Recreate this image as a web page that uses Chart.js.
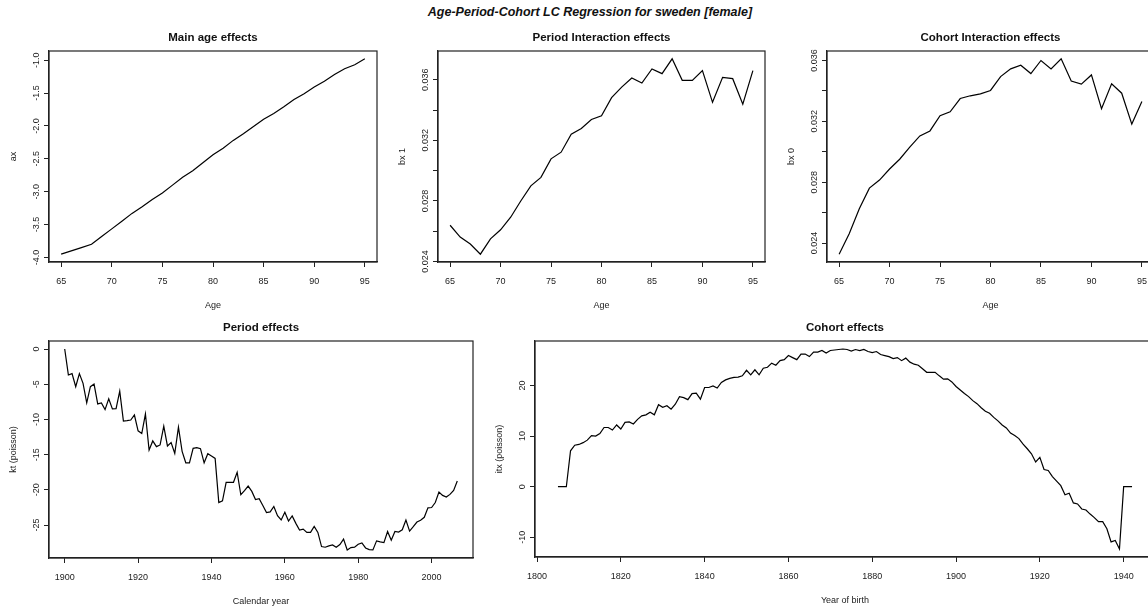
<!DOCTYPE html>
<html>
<head>
<meta charset="utf-8">
<script src="https://cdn.jsdelivr.net/npm/chart.js@4.4.1/dist/chart.umd.min.js"></script>
<style>
html, body { margin: 0; padding: 0; background: #fff; overflow: hidden; width: 1148px; height: 609px; }
#wrap { position: relative; width: 1148px; height: 609px; overflow: hidden; }
#wrap canvas { position: absolute; }
#main { position: absolute; left: 0; width: 1180px; top: 5px; line-height: 15px; text-align: center;
        font: italic bold 12.5px 'Liberation Sans', Arial, sans-serif; color: #111; }
</style>
</head>
<body>
<div id="wrap">
  <div id="main">Age-Period-Cohort LC Regression for sweden [female]</div>
  <canvas id="ageChart"></canvas>
  <canvas id="bx1Chart"></canvas>
  <canvas id="bx0Chart"></canvas>
  <canvas id="periodChart"></canvas>
  <canvas id="cohortChart"></canvas>
</div>
<script>
'use strict';

// ages 65..95
var ages = [65, 66, 67, 68, 69, 70, 71, 72, 73, 74, 75, 76, 77, 78, 79, 80,
            81, 82, 83, 84, 85, 86, 87, 88, 89, 90, 91, 92, 93, 94, 95];
var ax = [-3.95, -3.90, -3.85, -3.80, -3.68, -3.565, -3.45, -3.33, -3.23, -3.12, -3.02,
          -2.90, -2.78, -2.68, -2.56, -2.44, -2.34, -2.22, -2.12, -2.01, -1.90,
          -1.81, -1.71, -1.60, -1.51, -1.41, -1.32, -1.22, -1.13, -1.07, -0.98];
var bx1 = [0.0264, 0.02562, 0.02516, 0.02449, 0.0255, 0.0261, 0.02693, 0.0280, 0.0290, 0.02956, 0.03078,
           0.03122, 0.0324, 0.03278, 0.03338, 0.03362, 0.03482, 0.03551, 0.03611, 0.03578, 0.03671,
           0.0364, 0.03738, 0.03596, 0.03596, 0.0366, 0.03451, 0.03616, 0.03607, 0.03438, 0.0366];
var bx0 = [0.02327, 0.02462, 0.02626, 0.02761, 0.02814, 0.02887, 0.02951, 0.03031, 0.03104, 0.03137, 0.03237,
           0.03263, 0.0335, 0.03368, 0.03381, 0.03403, 0.03494, 0.03545, 0.03569, 0.03514, 0.036,
           0.03545, 0.03611, 0.03465, 0.03445, 0.03505, 0.03283, 0.03447, 0.03385, 0.03182, 0.0333];

// calendar years 1900..2007
var periodYears = yearRange(1900, 2007);
var kt = [
  0, -3.68, -3.49, -5.35, -3.49, -4.88, -7.65, -5.35, -4.97, -7.79,
  -7.65, -8.60, -7.07, -8.51, -8.46, -5.98, -10.23, -10.18, -10.09, -9.37,
  -11.62, -12.0, -9.23, -14.34, -13.05, -13.86, -13.62, -10.95, -13.77, -13.29,
  -14.82, -11.09, -14.53, -16.16, -16.16, -14.1, -14.0, -14.15, -16.16, -14.87,
  -15.2, -15.54, -21.8, -21.56, -18.93, -18.93, -18.93, -17.5, -20.7, -20.12,
  -19.46, -20.22, -21.37, -21.27, -22.23, -23.23, -23.14, -22.37, -23.66, -24.28,
  -23.18, -24.43, -23.71, -24.76, -25.72, -25.57, -26.05, -26.05, -25.19, -26.05,
  -28.06, -28.15, -27.96, -27.82, -28.15, -27.77, -27.0, -28.54, -28.2, -28.15,
  -27.72, -27.53, -28.25, -28.49, -28.54, -27.25, -27.39, -27.49, -25.91, -27.15,
  -25.91, -26.0, -25.67, -24.28, -25.86, -25.24, -24.57, -24.33, -23.9, -22.56,
  -22.51, -21.8, -20.32, -20.79, -21.03, -20.65, -20.08, -18.74
];

// years of birth 1805..1942
var cohortYears = yearRange(1805, 1942);
var itx = [
  0, 0, 0, 7.1, 8.2,
  8.35, 8.7, 9.2, 10.1, 10.0, 10.5, 11.7, 11.7, 11.2, 12.2,
  11.4, 12.7, 12.8, 12.4, 13.3, 14.0, 14.2, 14.7, 14.2, 16.2,
  15.7, 16.0, 15.3, 16.3, 17.8, 17.6, 17.2, 18.4, 18.5, 17.3,
  19.6, 19.6, 19.9, 19.5, 20.6, 21.1, 21.4, 21.6, 21.65, 21.9,
  23.0, 22.1, 23.1, 22.1, 23.4, 23.6, 24.4, 24.0, 24.9, 25.1,
  25.9, 25.5, 25.1, 26.2, 26.2, 25.7, 26.6, 26.6, 26.9, 26.4,
  26.9, 27.0, 27.1, 27.2, 27.1, 26.8, 27.1, 26.9, 27.1, 26.7,
  26.5, 26.7, 26.1, 25.9, 25.7, 25.3, 25.5, 24.9, 25.4, 24.6,
  24.2, 24.0, 23.3, 22.6, 22.6, 22.6, 21.9, 21.25, 21.3, 20.7,
  19.8, 19.1, 18.4, 17.8, 17.0, 16.4, 15.6, 14.9, 14.5, 13.7,
  13.0, 12.2, 11.6, 10.6, 10.1, 9.5, 8.4, 7.5, 6.5, 4.9,
  5.8, 3.4, 3.2, 2.0, 1.1, 0.2, -1.6, -1.3, -3.2, -3.4,
  -4.4, -4.6, -5.4, -6.1, -6.9, -6.9, -8.3, -10.9, -10.6, -12.3,
  0, 0, 0
];

var ageTicks = [65, 70, 75, 80, 85, 90, 95];
var yearTicks = [1900, 1920, 1940, 1960, 1980, 2000];
var birthTicks = [1800, 1820, 1840, 1860, 1880, 1900, 1920, 1940];
var axTicks = [-4, -3.5, -3, -2.5, -2, -1.5, -1];
var axLabels = ['-4.0', '-3.5', '-3.0', '-2.5', '-2.0', '-1.5', '-1.0'];
var bxTicks = [0.024, 0.026, 0.028, 0.030, 0.032, 0.034, 0.036];
var bxLabels = ['0.024', '', '0.028', '', '0.032', '', '0.036'];
var ktTicks = [-25, -20, -15, -10, -5, 0];
var itxTicks = [-10, 0, 10, 20];

function yearRange(a, b) {
    var out = [];
    for (var y = a; y <= b; y++) out.push(y);
    return out;
}

var FONT = "'Liberation Sans', Arial, Helvetica, sans-serif";
var YW = 49, TH = 24, XH = 52, RP = 12;

// R style axis range: data range plus 4% each side
function padRange(a) {
    var lo = Math.min.apply(null, a), hi = Math.max.apply(null, a), d = (hi - lo) * 0.04;
    return [lo - d, hi + d];
}

var measureCtx = document.createElement('canvas').getContext('2d');
function textWidth(s) {
    measureCtx.font = 'normal 9px ' + FONT;
    return measureCtx.measureText(s).width;
}

var frame = {
    id: 'frame',
    afterDraw: function (chart) {
        var a = chart.chartArea, ctx = chart.ctx;
        ctx.save();
        ctx.strokeStyle = '#222';
        ctx.lineWidth = 1.2;
        ctx.strokeRect(a.left, a.top, a.right - a.left, a.bottom - a.top);
        ctx.restore();
    }
};

function panel(id, box, p) {
    var cv = document.getElementById(id);
    var w = box.r - box.l + YW + RP, h = box.b - box.t + TH + XH;
    cv.width = w; cv.height = h;
    cv.style.left = (box.l - YW) + 'px';
    cv.style.top = (box.t - TH) + 'px';
    cv.style.width = w + 'px';
    cv.style.height = h + 'px';

    var xr = padRange(p.xs), yr = padRange(p.ys);
    var yLabels = p.yLabels || p.yTicks.map(String);
    var widest = Math.max.apply(null, yLabels.map(textWidth));

    return new Chart(cv.getContext('2d'), {
        type: 'line',
        data: {
            datasets: [{
                data: p.xs.map(function (x, i) { return { x: x, y: p.ys[i] }; }),
                borderColor: '#000',
                borderWidth: 1.2,
                pointRadius: 0,
                fill: false,
                tension: 0
            }]
        },
        options: {
            responsive: false,
            animation: false,
            layout: { padding: { left: 0, right: RP, top: 0, bottom: 0 } },
            plugins: {
                legend: { display: false },
                tooltip: { enabled: false },
                title: {
                    display: true, text: p.title, fullSize: false, color: '#111',
                    font: { family: FONT, size: 11.5, weight: 'bold' },
                    padding: { top: 4, bottom: 6.2 }
                }
            },
            scales: {
                x: {
                    type: 'linear', min: xr[0], max: xr[1],
                    afterBuildTicks: function (s) { s.ticks = p.xTicks.map(function (v) { return { value: v }; }); },
                    afterFit: function (s) { s.height = XH; },
                    grid: { drawOnChartArea: false, drawTicks: true, tickLength: 5, color: '#222' },
                    border: { display: true, color: '#222', width: 1.2 },
                    ticks: {
                        autoSkip: false, maxRotation: 0, padding: 9.1, color: '#222',
                        font: { family: FONT, size: 9 },
                        callback: function (v) { return String(v); }
                    },
                    title: {
                        display: true, text: p.xTitle, color: '#222',
                        font: { family: FONT, size: 9 }, padding: { top: 0, bottom: 3.1 }
                    }
                },
                y: {
                    type: 'linear', min: yr[0], max: yr[1],
                    afterBuildTicks: function (s) { s.ticks = p.yTicks.map(function (v) { return { value: v }; }); },
                    afterFit: function (s) { s.width = YW; },
                    grid: { drawOnChartArea: false, drawTicks: true, tickLength: 5, color: '#222' },
                    border: { display: true, color: '#222', width: 1.2 },
                    ticks: {
                        autoSkip: false, minRotation: 90, maxRotation: 90, crossAlign: 'center',
                        padding: 7.5 - widest / 2, color: '#222',
                        font: { family: FONT, size: 9 },
                        callback: function (v, i) { return yLabels[i]; }
                    },
                    title: {
                        display: true, text: p.yTitle, color: '#222',
                        font: { family: FONT, size: 9 }, padding: { top: 8.1, bottom: 0 }
                    }
                }
            }
        },
        plugins: [frame]
    });
}

//top row
panel('ageChart', { l: 49, t: 51, r: 377, b: 262 }, {
    title: 'Main age effects', xTitle: 'Age', yTitle: 'ax',
    xs: ages, ys: ax, xTicks: ageTicks, yTicks: axTicks, yLabels: axLabels
});
panel('bx1Chart', { l: 438, t: 51, r: 765, b: 262 }, {
    title: 'Period Interaction effects', xTitle: 'Age', yTitle: 'bx 1',
    xs: ages, ys: bx1, xTicks: ageTicks, yTicks: bxTicks, yLabels: bxLabels
});
panel('bx0Chart', { l: 827, t: 51, r: 1154, b: 262 }, {
    title: 'Cohort Interaction effects', xTitle: 'Age', yTitle: 'bx 0',
    xs: ages, ys: bx0, xTicks: ageTicks, yTicks: bxTicks, yLabels: bxLabels
});
//bottom row
panel('periodChart', { l: 49, t: 341, r: 473, b: 558 }, {
    title: 'Period effects', xTitle: 'Calendar year', yTitle: 'kt (poisson)',
    xs: periodYears, ys: kt, xTicks: yearTicks, yTicks: ktTicks
});
panel('cohortChart', { l: 535, t: 341, r: 1155, b: 557 }, {
    title: 'Cohort effects', xTitle: 'Year of birth', yTitle: 'itx (poisson)',
    xs: cohortYears, ys: itx, xTicks: birthTicks, yTicks: itxTicks
});
</script>
</body>
</html>
